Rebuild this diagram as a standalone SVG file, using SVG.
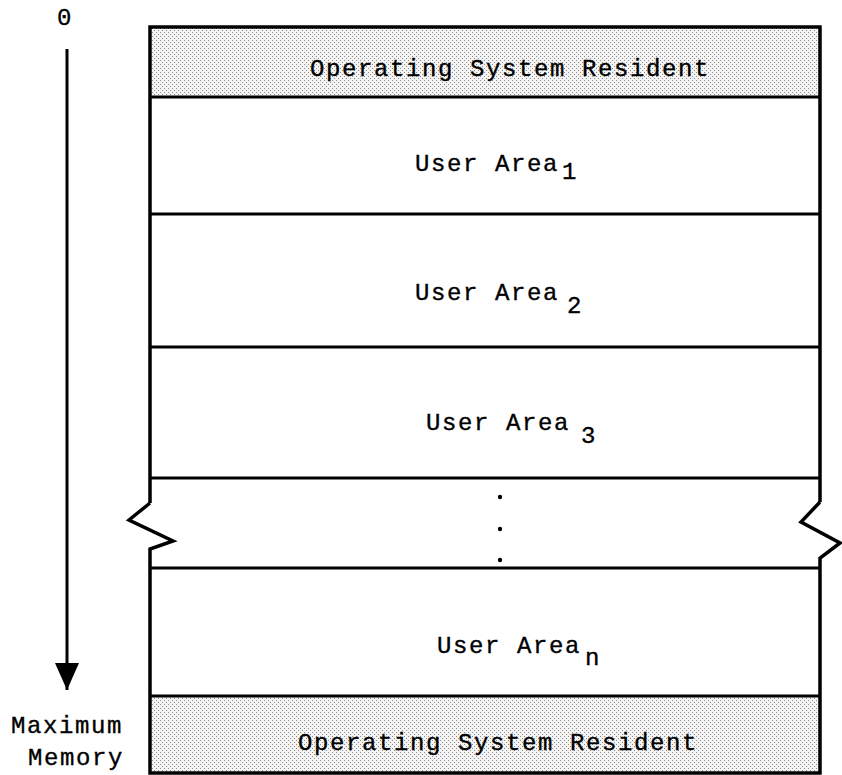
<svg xmlns="http://www.w3.org/2000/svg" width="842" height="775" viewBox="0 0 842 775">
  <defs>
    <!-- fine stipple used for the resident operating-system bands -->
    <pattern id="stipple" width="4" height="4" patternUnits="userSpaceOnUse">
      <rect width="4" height="4" fill="#f4f4f4"/>
      <rect x="0" y="0" width="1" height="1" fill="#8a8a8a"/>
      <rect x="2" y="2" width="1" height="1" fill="#8a8a8a"/>
    </pattern>
    <!-- solid arrowhead, drawn along +x so orient="auto" follows the line -->
    <marker id="arrowhead" viewBox="0 0 27 24" refX="27" refY="12" markerWidth="27" markerHeight="24" markerUnits="userSpaceOnUse" orient="auto">
      <path d="M0,0 L27,12 L0,24 Z" fill="#000"/>
    </marker>
  </defs>
  <style>
    .lbl { font-family: "Liberation Mono", "Courier New", monospace; font-size: 24px; letter-spacing: 1.6px; fill: #000; stroke: #000; stroke-width: 0.35px; }
    .band { fill: #fff; }
    .os { fill: url(#stipple); }
    .div { stroke: #000; stroke-width: 3; fill: none; }
    .edge { stroke: #000; stroke-width: 3.5; fill: none; stroke-linejoin: miter; }
    .dot { fill: #000; }
  </style>

  <rect width="842" height="775" fill="#fff"/>

  <!-- memory bands, top (address 0) to bottom (maximum memory) -->
  <g id="os-top">
    <rect class="os" x="150" y="28" width="669" height="69"/>
    <text class="lbl" x="310" y="76">Operating System Resident</text>
  </g>
  <g id="user-area-1">
    <rect class="band" x="150" y="98" width="669" height="116"/>
    <text class="lbl" x="415" y="171">User Area</text>
    <text class="lbl" x="562" y="179">1</text>
  </g>
  <g id="user-area-2">
    <rect class="band" x="150" y="215" width="669" height="132"/>
    <text class="lbl" x="415" y="300">User Area</text>
    <text class="lbl" x="567" y="313">2</text>
  </g>
  <g id="user-area-3">
    <rect class="band" x="150" y="348" width="669" height="130"/>
    <text class="lbl" x="426" y="430">User Area</text>
    <text class="lbl" x="581" y="443">3</text>
  </g>
  <g id="gap">
    <circle class="dot" cx="500" cy="497" r="2.2"/>
    <circle class="dot" cx="500" cy="529" r="2.2"/>
    <circle class="dot" cx="500" cy="560" r="2.2"/>
  </g>
  <g id="user-area-n">
    <rect class="band" x="150" y="569" width="669" height="127"/>
    <text class="lbl" x="437" y="653">User Area</text>
    <text class="lbl" x="585" y="665">n</text>
  </g>
  <g id="os-bottom">
    <rect class="os" x="150" y="697" width="669" height="75"/>
    <text class="lbl" x="298" y="750">Operating System Resident</text>
  </g>

  <!-- band dividers -->
  <g id="dividers">
    <line class="div" x1="149" y1="97" x2="820" y2="97"/>
    <line class="div" x1="149" y1="214" x2="820" y2="214"/>
    <line class="div" x1="149" y1="347" x2="820" y2="347"/>
    <line class="div" x1="149" y1="478" x2="820" y2="478"/>
    <line class="div" x1="149" y1="568" x2="820" y2="568"/>
    <line class="div" x1="149" y1="696" x2="820" y2="696"/>
  </g>

  <!-- outer frame with break marks on both sides -->
  <g id="frame">
    <path class="edge" d="M150,503 L150,27 L820,27 L820,502"/>
    <path class="edge" d="M150,503 L129,520 L173,541 L150,549 L150,773 L820,773 L820,558 L840,543 L801,522 L820,502"/>
  </g>

  <!-- address direction axis -->
  <g id="connectors">
    <line x1="67" y1="49" x2="67" y2="690" stroke="#000" stroke-width="3" marker-end="url(#arrowhead)"/>
  </g>
  <g id="axis-labels">
    <text class="lbl" x="57" y="25">0</text>
    <text class="lbl" x="11" y="733">Maximum</text>
    <text class="lbl" x="28" y="765">Memory</text>
  </g>
</svg>
